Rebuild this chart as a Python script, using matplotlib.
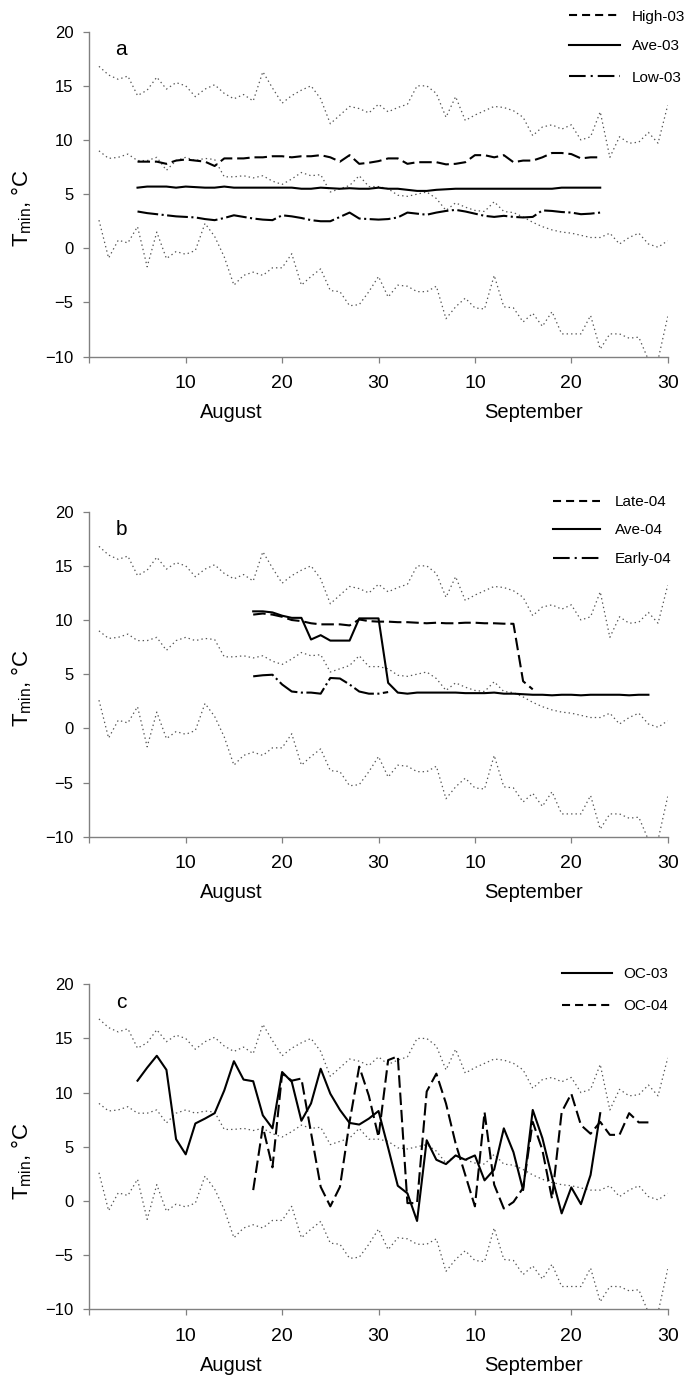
import numpy as np
import matplotlib
matplotlib.use("Agg")
import matplotlib.pyplot as plt
from matplotlib.lines import Line2D
from matplotlib.transforms import blended_transform_factory

plt.rcParams['font.family'] = ['Liberation Sans', 'DejaVu Sans']
plt.rcParams['mathtext.default'] = 'regular'
plt.rcParams['lines.scale_dashes'] = False

# days since 31 July (1 = 1 Aug ... 60 = end of Sep)
days = list(range(1, 61))

# long-term daily climatology (dotted lines): max, mean and min of Tmin
tmax_clim = [16.8, 16.0, 15.6, 15.9, 14.1, 14.6, 15.8, 14.7, 15.3, 15.0,
             14.0, 14.7, 15.1, 14.3, 13.8, 14.2, 13.6, 16.3, 14.8, 13.4,
             14.1, 14.6, 15.0, 13.8, 11.5, 12.3, 13.1, 12.9, 12.5, 13.3,
             12.6, 13.0, 13.3, 15.0, 15.0, 14.3, 12.1, 14.0, 11.8, 12.3,
             12.7, 13.1, 13.0, 12.7, 12.1, 10.4, 11.2, 11.4, 11.0, 11.4,
             10.0, 10.3, 12.6, 8.4, 10.3, 9.7, 9.8, 10.7, 9.7, 13.2]
tmean_clim = [9.0, 8.3, 8.4, 8.7, 8.1, 8.1, 8.4, 7.2, 8.1, 8.4,
              8.1, 8.3, 8.2, 6.6, 6.6, 6.7, 6.5, 6.7, 6.2, 5.9,
              6.4, 7.0, 6.7, 6.8, 5.2, 5.5, 5.8, 6.7, 5.7, 5.7,
              5.5, 4.9, 4.8, 5.0, 5.2, 4.6, 3.5, 4.2, 3.8, 3.5,
              3.4, 4.3, 3.4, 3.3, 2.9, 2.4, 2.0, 1.7, 1.5, 1.4,
              1.2, 1.0, 1.0, 1.4, 0.4, 1.0, 1.4, 0.4, 0.1, 0.7]
tmin_clim = [2.6, -0.9, 0.75, 0.5, 2.0, -1.7, 1.5, -0.95, -0.3, -0.55,
             -0.2, 2.3, 1.1, -0.8, -3.4, -2.5, -2.2, -2.5, -1.8, -1.8,
             -0.5, -3.4, -2.6, -1.9, -3.9, -4.0, -5.3, -5.2, -4.0, -2.6,
             -4.5, -3.4, -3.5, -4.0, -4.0, -3.5, -6.5, -5.4, -4.6, -5.5,
             -5.6, -2.5, -5.4, -5.5, -6.8, -6.0, -7.2, -5.85, -7.9, -7.9,
             -7.9, -6.2, -9.3, -7.9, -7.9, -8.3, -8.2, -10.3, -10.3, -6.3]

# panel a: 2003 scenarios
days_03 = list(range(5, 54))
high03 = [8.0, 8.0, 8.0, 7.8, 8.1, 8.2, 8.1, 8.0, 7.6, 8.3,
          8.3, 8.3, 8.4, 8.4, 8.5, 8.5, 8.4, 8.5, 8.5, 8.6,
          8.4, 8.0, 8.6, 7.8, 7.9, 8.05, 8.3, 8.3, 7.8, 7.95,
          7.95, 7.95, 7.75, 7.8, 7.95, 8.6, 8.6, 8.4, 8.6, 7.95,
          8.1, 8.1, 8.4, 8.8, 8.8, 8.7, 8.3, 8.4, 8.4]
ave03 = [5.6, 5.7, 5.7, 5.7, 5.6, 5.7, 5.65, 5.6, 5.6, 5.7,
         5.6, 5.6, 5.6, 5.6, 5.6, 5.6, 5.6, 5.5, 5.5, 5.6,
         5.55, 5.5, 5.55, 5.5, 5.5, 5.6, 5.5, 5.5, 5.4, 5.3,
         5.3, 5.4, 5.45, 5.5, 5.5, 5.5, 5.5, 5.5, 5.5, 5.5,
         5.5, 5.5, 5.5, 5.5, 5.6, 5.6, 5.6, 5.6, 5.6]
low03 = [3.4, 3.25, 3.15, 3.05, 2.95, 2.9, 2.85, 2.7, 2.6, 2.8,
         3.05, 2.9, 2.75, 2.65, 2.6, 3.05, 2.95, 2.8, 2.6, 2.5,
         2.5, 2.9, 3.3, 2.75, 2.7, 2.65, 2.7, 2.85, 3.3, 3.2,
         3.1, 3.3, 3.45, 3.55, 3.4, 3.2, 3.0, 2.9, 3.0, 2.9,
         2.85, 2.9, 3.5, 3.45, 3.35, 3.3, 3.15, 3.2, 3.3]

# panel b: 2004 scenarios
days_late04 = list(range(17, 47))
late04 = [10.5, 10.6, 10.5, 10.3, 10.0, 9.9, 9.7, 9.6, 9.6, 9.6,
          9.5, 10.05, 9.9, 9.85, 9.85, 9.8, 9.8, 9.75, 9.7, 9.75,
          9.7, 9.7, 9.75, 9.75, 9.7, 9.7, 9.66, 9.65, 4.35, 3.6]
days_ave04 = list(range(17, 59))
ave04 = [10.8, 10.8, 10.7, 10.4, 10.2, 10.2, 8.2, 8.6, 8.1, 8.1,
         8.1, 10.15, 10.15, 10.15, 4.2, 3.3, 3.2, 3.3, 3.3, 3.3,
         3.3, 3.3, 3.25, 3.25, 3.25, 3.3, 3.2, 3.2, 3.15, 3.1,
         3.1, 3.05, 3.1, 3.1, 3.05, 3.1, 3.1, 3.1, 3.1, 3.05, 3.1, 3.1]
days_early04 = list(range(17, 32))
early04 = [4.8, 4.9, 4.95, 4.05, 3.4, 3.3, 3.3, 3.2, 4.65, 4.6,
           4.05, 3.4, 3.2, 3.2, 3.35]

# panel c: observed Tmin
days_oc03 = list(range(5, 54))
oc03 = [11.1, 12.3, 13.4, 12.1, 5.7, 4.3, 7.15, 7.6, 8.1, 10.2,
        12.9, 11.2, 11.05, 7.9, 6.7, 11.9, 11.0, 7.4, 9.0, 12.2,
        9.9, 8.4, 7.2, 7.05, 7.6, 8.3, 4.9, 1.4, 0.7, -1.85,
        5.6, 3.8, 3.4, 4.2, 3.8, 4.2, 1.9, 2.9, 6.7, 4.5,
        1.0, 8.4, 5.8, 2.2, -1.15, 1.25, -0.3, 2.4, 8.1]
days_oc04 = list(range(17, 59))
oc04 = [1.0, 6.85, 3.1, 11.75, 11.1, 11.3, 6.3, 1.3, -0.5, 1.3,
        7.3, 12.4, 9.7, 5.9, 13.0, 13.35, -0.2, -0.2, 10.1, 11.75,
        9.0, 5.3, 2.4, -0.5, 8.2, 1.5, -0.7, -0.1, 1.2, 7.3,
        4.7, 0.2, 8.2, 9.9, 7.0, 6.2, 7.3, 6.1, 6.1, 8.1, 7.25, 7.25]

xtick_pos = [0, 10, 20, 30, 40, 50, 60]
xtick_labels = ['', '10', '20', '30', '10', '20', '30']
month_names = ['August', 'September']
month_pos = [14.7, 46.1]

GREY = '#808080'
dotted = dict(color='#555555', lw=0.9, ls=(0, (1.0, 2.2)))
solid = dict(color='black', lw=1.5, ls='-')
dashed = dict(color='black', lw=1.5, ls=(0, (9.0, 3.5)))
dashdot = dict(color='black', lw=1.5, ls=(0, (15.0, 2.5, 1.5, 2.5)))
# legend swatches use shorter dash lengths
leg_dashed = dict(color='black', lw=1.5, ls=(0, (5.8, 3.6)))
leg_dashdot = dict(color='black', lw=1.5, ls=(0, (12.0, 3.6, 1.5, 3.6)))

W, H = 694, 1377
fig = plt.figure(figsize=(W / 100, H / 100), dpi=100)

def make_panel(bottom, letter):
    ax = fig.add_axes([0.1287, bottom, 0.8334, 0.2360])
    ax.plot(days, tmax_clim, **dotted)
    ax.plot(days, tmean_clim, **dotted)
    ax.plot(days, tmin_clim, **dotted)
    ax.set_xlim(0, 60)
    ax.set_ylim(-10, 20)
    ax.set_xticks(xtick_pos)
    ax.set_xticklabels(xtick_labels)
    ax.set_yticks(np.arange(-10, 21, 5))
    for s in ['top', 'right']:
        ax.spines[s].set_visible(False)
    for s in ['left', 'bottom']:
        ax.spines[s].set_color(GREY)
        ax.spines[s].set_linewidth(1.0)
    ax.tick_params(direction='out', length=4.3, width=0.9, color=GREY)
    ax.tick_params(axis='x', labelsize=14, pad=9)
    ax.tick_params(axis='y', labelsize=12, pad=7)
    ax.set_ylabel('$T_{min}$, °C', fontsize=16)
    ax.yaxis.set_label_coords(-0.095, 0.457)
    trans = blended_transform_factory(ax.transData, ax.transAxes)
    for name, pos in zip(month_names, month_pos):
        ax.text(pos, -0.173, name, transform=trans, ha='center', va='center',
                fontsize=14.5)
    ax.text(3.3, 17.85, letter, fontsize=15, ha='center', va='baseline')
    return ax

def draw_key(styles, labels, x0, x1, xt, rows):
    # key drawn in figure pixels (from the top left corner)
    for style, label, yp in zip(styles, labels, rows):
        fy = 1 - yp / H
        fig.add_artist(Line2D([x0 / W, x1 / W], [fy, fy],
                              transform=fig.transFigure, **style))
        fig.text(xt / W, fy, label, ha='left', va='center_baseline',
                 fontsize=11)

# panel a
ax = make_panel(0.7410, 'a')
ax.plot(days_03, high03, **dashed)
ax.plot(days_03, ave03, **solid)
ax.plot(days_03, low03, **dashdot)
draw_key([leg_dashed, solid, leg_dashdot], ['High-03', 'Ave-03', 'Low-03'],
         569, 620, 632, [15, 45, 76])

# panel b
ax = make_panel(0.3924, 'b')
ax.plot(days_late04, late04, **dashed)
ax.plot(days_ave04, ave04, **solid)
ax.plot(days_early04, early04, **dashdot)
draw_key([leg_dashed, solid, leg_dashdot], ['Late-04', 'Ave-04', 'Early-04'],
         553, 600, 615, [501, 529, 558])

# panel c
ax = make_panel(0.0492, 'c')
ax.plot(days_oc03, oc03, **solid)
ax.plot(days_oc04, oc04, **dashed)
draw_key([solid, leg_dashed], ['OC-03', 'OC-04'],
         562, 612, 623, [973, 1005])

fig.savefig('out.png', dpi=100)
